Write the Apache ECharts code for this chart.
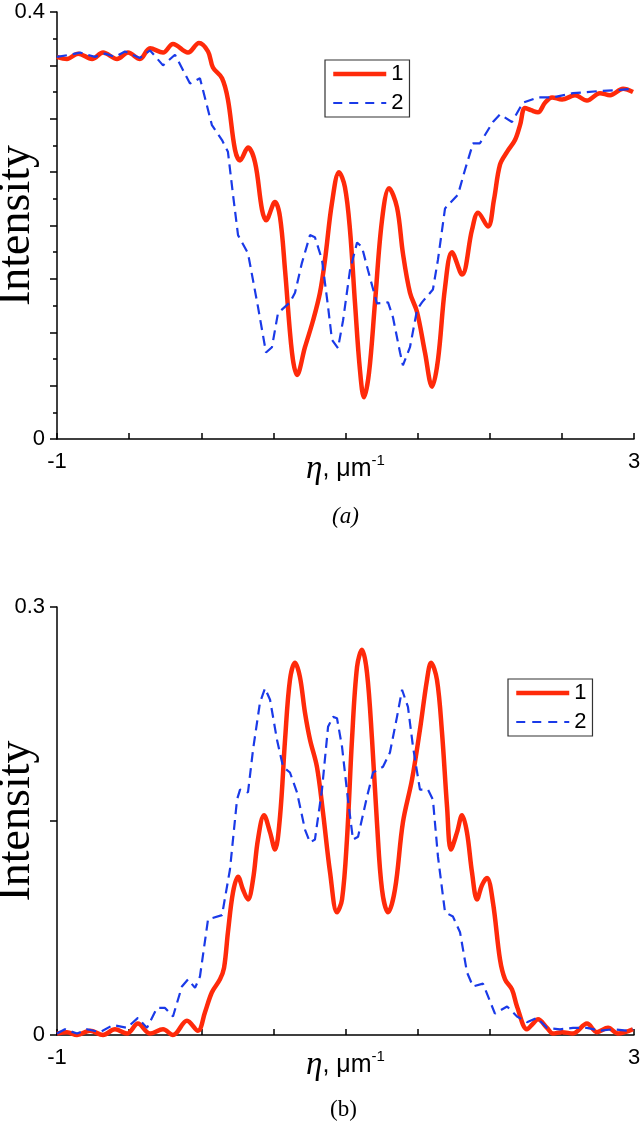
<!DOCTYPE html>
<html>
<head>
<meta charset="utf-8">
<script src="https://cdn.jsdelivr.net/npm/echarts@6/dist/echarts.min.js"></script>
<style>html,body{margin:0;padding:0;background:#fff}#c{width:640px;height:1129px}</style>
</head>
<body>
<div id="c"></div>
<script>
// ---- Panel (a) data ----
var aX1 = [-1.000,-0.931,-0.854,-0.757,-0.681,-0.584,-0.508,-0.425,-0.355,-0.265,-0.196,-0.092,-0.016,0.047,0.081,0.144,0.185,0.234,0.269,0.324,0.373,0.421,0.449,0.511,0.546,0.581,0.629,0.664,0.719,0.775,0.823,0.858,0.906,0.955,0.996,1.031,1.066,1.100,1.128,1.163,1.204,1.253,1.302,1.357,1.398,1.447,1.496,1.551,1.600,1.641,1.690,1.738,1.808,1.877,1.919,1.988,2.029,2.071,2.120,2.175,2.210,2.244,2.286,2.334,2.383,2.432,2.501,2.591,2.674,2.764,2.834,2.924,2.993];
var aY1 = [0.358,0.356,0.361,0.356,0.362,0.356,0.362,0.356,0.366,0.362,0.370,0.362,0.371,0.363,0.348,0.338,0.318,0.271,0.261,0.273,0.259,0.215,0.205,0.222,0.208,0.158,0.081,0.060,0.086,0.111,0.137,0.168,0.221,0.250,0.236,0.196,0.127,0.065,0.039,0.062,0.127,0.205,0.235,0.217,0.174,0.137,0.119,0.081,0.049,0.074,0.142,0.175,0.154,0.196,0.212,0.199,0.224,0.257,0.269,0.280,0.294,0.310,0.308,0.306,0.315,0.320,0.318,0.322,0.317,0.324,0.322,0.328,0.325];
var aX2 = [-1.000,-0.910,-0.841,-0.737,-0.667,-0.598,-0.529,-0.425,-0.355,-0.265,-0.182,-0.078,-0.009,0.074,0.144,0.185,0.220,0.255,0.324,0.393,0.449,0.490,0.532,0.615,0.650,0.698,0.754,0.788,0.837,0.879,0.906,0.948,0.983,1.031,1.080,1.114,1.156,1.218,1.295,1.329,1.378,1.398,1.447,1.496,1.530,1.606,1.641,1.690,1.780,1.828,1.884,1.932,2.022,2.071,2.154,2.230,2.334,2.438,2.577,2.674,2.764,2.903,2.993];
var aY2 = [0.358,0.360,0.362,0.358,0.361,0.358,0.363,0.357,0.364,0.350,0.360,0.333,0.338,0.294,0.280,0.269,0.229,0.191,0.174,0.124,0.081,0.086,0.118,0.128,0.137,0.165,0.191,0.189,0.168,0.124,0.093,0.085,0.111,0.158,0.184,0.180,0.158,0.127,0.128,0.114,0.081,0.069,0.086,0.121,0.128,0.140,0.168,0.216,0.229,0.252,0.277,0.277,0.297,0.304,0.297,0.315,0.320,0.320,0.324,0.325,0.326,0.327,0.328];

// ---- Panel (b) data ----
var bX1 = [-1.000,-0.931,-0.861,-0.771,-0.681,-0.598,-0.515,-0.439,-0.355,-0.265,-0.196,-0.099,-0.023,0.026,0.074,0.130,0.158,0.185,0.220,0.255,0.289,0.324,0.359,0.393,0.435,0.477,0.511,0.546,0.581,0.615,0.650,0.684,0.719,0.754,0.802,0.844,0.893,0.941,0.976,1.010,1.045,1.080,1.114,1.149,1.184,1.218,1.253,1.295,1.343,1.398,1.461,1.516,1.565,1.593,1.634,1.669,1.704,1.731,1.773,1.808,1.842,1.877,1.912,1.946,1.981,2.022,2.071,2.106,2.154,2.189,2.258,2.300,2.334,2.397,2.438,2.501,2.577,2.674,2.743,2.820,2.889,2.993];
var bY1 = [0.001,0.002,0.000,0.003,0.000,0.004,0.001,0.008,0.001,0.004,0.000,0.010,0.003,0.016,0.030,0.039,0.047,0.072,0.100,0.111,0.102,0.095,0.109,0.137,0.154,0.142,0.130,0.153,0.207,0.249,0.261,0.251,0.226,0.207,0.188,0.156,0.114,0.086,0.095,0.137,0.207,0.258,0.270,0.254,0.207,0.149,0.102,0.086,0.102,0.149,0.179,0.214,0.249,0.261,0.249,0.212,0.160,0.130,0.142,0.154,0.142,0.114,0.095,0.105,0.110,0.093,0.053,0.039,0.032,0.020,0.004,0.008,0.011,0.005,0.001,0.002,0.001,0.008,0.002,0.005,0.001,0.004];
var bX2 = [-1.000,-0.945,-0.861,-0.792,-0.702,-0.612,-0.515,-0.439,-0.376,-0.307,-0.251,-0.196,-0.134,-0.092,-0.043,-0.009,0.047,0.144,0.199,0.248,0.269,0.324,0.359,0.407,0.442,0.477,0.525,0.567,0.615,0.664,0.719,0.754,0.788,0.837,0.879,0.913,0.941,0.976,1.017,1.052,1.087,1.149,1.191,1.260,1.308,1.357,1.392,1.433,1.468,1.516,1.572,1.606,1.641,1.690,1.745,1.794,1.842,1.884,1.953,2.036,2.120,2.189,2.258,2.327,2.397,2.487,2.577,2.674,2.764,2.854,2.951,2.993];
var bY2 = [0.001,0.004,0.001,0.004,0.002,0.007,0.005,0.012,0.005,0.019,0.019,0.013,0.034,0.039,0.033,0.041,0.081,0.084,0.116,0.165,0.172,0.170,0.200,0.233,0.243,0.235,0.207,0.188,0.184,0.170,0.144,0.135,0.137,0.172,0.216,0.223,0.222,0.202,0.165,0.137,0.139,0.167,0.184,0.188,0.198,0.223,0.242,0.230,0.202,0.172,0.172,0.165,0.125,0.086,0.083,0.072,0.044,0.034,0.036,0.015,0.020,0.013,0.009,0.012,0.005,0.004,0.005,0.005,0.003,0.004,0.003,0.004];

var seriesNames = ['1', '2'];
var xTickLabels = [-1, 3];
var aYTickLabels = [0, 0.4];
var bYTickLabels = [0, 0.3];

function zip(xs, ys) { return xs.map(function (x, i) { return [x, ys[i]]; }); }
function labelOnly(list) {
  return function (v) {
    for (var i = 0; i < list.length; i++) if (Math.abs(v - list[i]) < 1e-9) return String(list[i]);
    return '';
  };
}

var RED = '#ff2a0a', BLUE = '#1a3ae8';
var SANS = 'Liberation Sans', SERIF = 'Liberation Serif';
var axisLineStyle = { color: '#000', width: 1.5 };

function xAxisDef(gi) {
  return {
    type: 'value', gridIndex: gi, min: -1, max: 3, interval: 0.5,
    axisLine: { show: true, onZero: false, lineStyle: axisLineStyle },
    axisTick: { show: true, inside: true, length: 6, lineStyle: axisLineStyle },
    axisLabel: { formatter: labelOnly(xTickLabels), fontFamily: SANS, fontSize: 22, color: '#000', margin: 12 },
    splitLine: { show: false },
    name: '{eta|η}{t|, μm}{sup|-1}',
    nameLocation: 'middle', nameGap: 14, nameMoveOverlap: false,
    nameTextStyle: {
      verticalAlign: 'top',
      rich: {
        eta: { fontFamily: SERIF, fontStyle: 'italic', fontSize: 33, color: '#000' },
        t: { fontFamily: SANS, fontSize: 25, color: '#000' },
        sup: { fontFamily: SANS, fontSize: 15, color: '#000', verticalAlign: 'top', padding: [0, 0, 14, 0] }
      }
    }
  };
}
function yAxisDef(gi, max, interval, labels, minor) {
  return {
    type: 'value', gridIndex: gi, min: 0, max: max, interval: interval,
    axisLine: { show: true, onZero: false, lineStyle: axisLineStyle },
    axisTick: { show: true, inside: false, length: 7, lineStyle: axisLineStyle },
    minorTick: { show: minor, splitNumber: 2, length: 4, lineStyle: { color: '#000', width: 1.5 } },
    minorSplitLine: { show: false },
    axisLabel: { formatter: labelOnly(labels), fontFamily: SANS, fontSize: 22, color: '#000', margin: 12 },
    splitLine: { show: false },
    name: 'Intensity', nameLocation: 'middle', nameGap: 17, nameRotate: 90, nameMoveOverlap: false,
    nameTextStyle: { fontFamily: SERIF, fontSize: 46, color: '#000' }
  };
}
function redSeries(name, xi, data) {
  return { name: name, type: 'line', xAxisIndex: xi, yAxisIndex: xi, data: data, smooth: 0.35,
    symbol: 'none', clip: false, lineStyle: { color: RED, width: 4.5 }, itemStyle: { color: RED }, z: 3 };
}
function blueSeries(name, xi, data) {
  return { name: name, type: 'line', xAxisIndex: xi, yAxisIndex: xi, data: data, smooth: false,
    symbol: 'none', clip: false, lineStyle: { color: BLUE, width: 2.2, type: [10, 6] }, itemStyle: { color: BLUE }, z: 4 };
}
function legendDef(left, top) {
  return {
    data: [
      { name: seriesNames[0], lineStyle: { width: 4.5, color: RED, type: 'solid' } },
      { name: seriesNames[1], lineStyle: { width: 2.2, color: BLUE, type: [9, 7] } }
    ],
    left: left, top: top, orient: 'vertical',
    itemWidth: 53, itemHeight: 14, itemGap: 7,
    padding: [3, 6, 3, 6], borderColor: '#333', borderWidth: 1.2,
    itemStyle: { color: 'rgba(0,0,0,0)', borderWidth: 0, opacity: 0 },
    textStyle: { fontFamily: SANS, fontSize: 22, color: '#000' }
  };
}

var chart = echarts.init(document.getElementById('c'), null, { renderer: 'canvas' });
chart.setOption({
  animation: false,
  backgroundColor: '#fff',
  grid: [
    { left: 57, top: 12, width: 577, height: 427, outerBoundsMode: 'none', containLabel: false },
    { left: 57, top: 607, width: 577, height: 428, outerBoundsMode: 'none', containLabel: false }
  ],
  xAxis: [xAxisDef(0), xAxisDef(1)],
  yAxis: [yAxisDef(0, 0.4, 0.05, aYTickLabels, true), yAxisDef(1, 0.3, 0.15, bYTickLabels, false)],
  legend: [legendDef(325, 60), legendDef(508, 679)],
  graphic: [
    { type: 'text', left: 332, top: 505, style: { text: '(a)', font: 'italic 23px "Liberation Serif"', fill: '#000' } },
    { type: 'text', left: 330, top: 1098, style: { text: '(b)', font: '23px "Liberation Serif"', fill: '#000' } }
  ],
  series: [
    redSeries(seriesNames[0], 0, zip(aX1, aY1)),
    blueSeries(seriesNames[1], 0, zip(aX2, aY2)),
    redSeries(seriesNames[0], 1, zip(bX1, bY1)),
    blueSeries(seriesNames[1], 1, zip(bX2, bY2))
  ]
});
</script>
</body>
</html>
